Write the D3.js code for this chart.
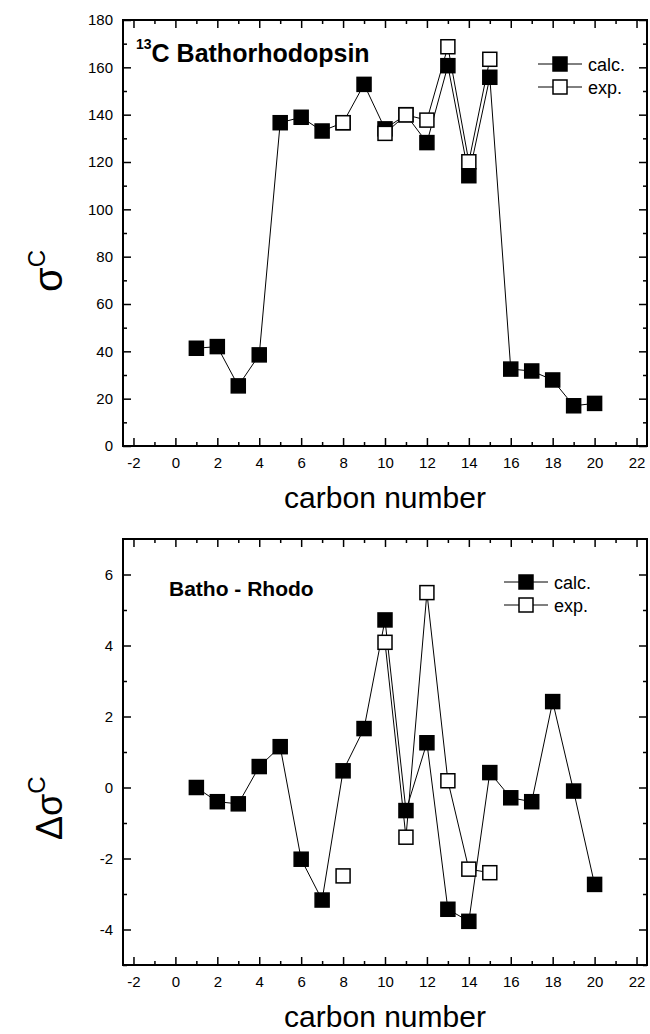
<!DOCTYPE html>
<meta charset="utf-8">
<style>
body { margin: 0; background: #fff; }
svg text { font-family: Arial, "Liberation Sans", sans-serif; fill: #000; }
.tick line { stroke: #000; stroke-width: 1.5px; }
.tick text { font-size: 15px; }
.domain { display: none; }
.frame { fill: none; stroke: #000; stroke-width: 2px; }
.link { fill: none; stroke: #000; stroke-width: 1px; }
</style>
<body>
<svg id="chart" width="650" height="1034"></svg>

<script src="https://d3js.org/d3.v7.min.js"></script>
<script>
// carbon positions along the retinal chain
var carbons = [1, 2, 3, 4, 5, 6, 7, 8, 9, 10, 11, 12, 13, 14, 15, 16, 17, 18, 19, 20];
var xTicks = [-2, 0, 2, 4, 6, 8, 10, 12, 14, 16, 18, 20, 22];

// 13C shielding of bathorhodopsin
var shieldCalc = [41.3, 42.0, 25.4, 38.5, 136.6, 138.9, 133.1, 136.6, 152.8, 134.0,
                  140.0, 128.2, 160.7, 114.2, 155.8, 32.5, 31.7, 27.9, 17.0, 18.0];
var shieldExp  = [null, null, null, null, null, null, null, 136.6, null, 132.1,
                  139.9, 137.7, 168.7, 120.1, 163.4, null, null, null, null, null];
var shieldTicks = [0, 20, 40, 60, 80, 100, 120, 140, 160, 180];

// batho - rhodo shift
var diffCalc = [0.0, -0.40, -0.46, 0.59, 1.15, -2.02, -3.17, 0.47, 1.66, 4.72,
                -0.65, 1.26, -3.43, -3.77, 0.42, -0.29, -0.40, 2.42, -0.10, -2.73];
var diffExp  = [null, null, null, null, null, null, null, -2.49, null, 4.09,
                -1.40, 5.49, 0.19, -2.30, -2.40, null, null, null, null, null];
var diffTicks = [-4, -2, 0, 2, 4, 6];

var seriesNames = ["calc.", "exp."];

var svg = d3.select("#chart");
var left = 123, right = 647, H = 426, S = 14;

var x = d3.scaleLinear().domain([-2.5, 22.5]).range([left, right]);
var plain = function(d) { return String(d); };   // hyphen minus, not d3's unicode minus

function minors(ticks, step) {
  var out = [];
  for (var i = 0; i < ticks.length - 1; i++) out.push(ticks[i] + step);
  return out;
}

function panel(top, yDomain, yTicks, yMinor, calc, exp, opts) {
  var y = d3.scaleLinear().domain(yDomain).range([top + H, top]);
  var g = svg.append("g");
  var xMinor = minors(xTicks, 1);

  // ticks, all pointing inwards
  g.append("g").attr("transform", "translate(0," + (top + H) + ")")
    .call(d3.axisBottom(x).tickValues(xTicks).tickSizeInner(-8).tickSizeOuter(0).tickPadding(11).tickFormat(plain));
  g.append("g").attr("transform", "translate(0," + (top + H) + ")")
    .call(d3.axisBottom(x).tickValues(xMinor).tickSizeInner(-4).tickSizeOuter(0).tickFormat(""));
  g.append("g").attr("transform", "translate(0," + top + ")")
    .call(d3.axisTop(x).tickValues(xTicks).tickSizeInner(-8).tickSizeOuter(0).tickFormat(""));
  g.append("g").attr("transform", "translate(0," + top + ")")
    .call(d3.axisTop(x).tickValues(xMinor).tickSizeInner(-4).tickSizeOuter(0).tickFormat(""));
  g.append("g").attr("transform", "translate(" + left + ",0)")
    .call(d3.axisLeft(y).tickValues(yTicks).tickSizeInner(-8).tickSizeOuter(0).tickPadding(10).tickFormat(plain));
  g.append("g").attr("transform", "translate(" + left + ",0)")
    .call(d3.axisLeft(y).tickValues(yMinor).tickSizeInner(-4).tickSizeOuter(0).tickFormat(""));
  g.append("g").attr("transform", "translate(" + right + ",0)")
    .call(d3.axisRight(y).tickValues(yTicks).tickSizeInner(-8).tickSizeOuter(0).tickFormat(""));
  g.append("g").attr("transform", "translate(" + right + ",0)")
    .call(d3.axisRight(y).tickValues(yMinor).tickSizeInner(-4).tickSizeOuter(0).tickFormat(""));
  g.selectAll(".tick text").attr("fill", "#000");

  g.append("rect").attr("class", "frame")
    .attr("x", left).attr("y", top).attr("width", right - left).attr("height", H);

  var line = d3.line()
    .defined(function(d) { return d.v != null; })
    .x(function(d) { return x(d.c); })
    .y(function(d) { return y(d.v); });

  [calc, exp].forEach(function(vals, k) {
    var pts = carbons.map(function(c, i) { return {c: c, v: vals[i]}; });
    g.append("path").attr("class", "link").attr("d", line(pts));
    g.selectAll(".m" + k).data(pts.filter(function(d) { return d.v != null; }))
      .enter().append("rect")
      .attr("x", function(d) { return x(d.c) - S / 2; })
      .attr("y", function(d) { return y(d.v) - S / 2; })
      .attr("width", S).attr("height", S)
      .attr("fill", k == 0 ? "#000" : "#fff")
      .attr("stroke", "#000").attr("stroke-width", 1.5);
  });

  // legend
  seriesNames.forEach(function(name, k) {
    var ly = opts.legY + k * 23;
    g.append("line").attr("class", "link")
      .attr("x1", opts.legX - 22).attr("x2", opts.legX + 22).attr("y1", ly).attr("y2", ly);
    g.append("rect").attr("x", opts.legX - S / 2).attr("y", ly - S / 2)
      .attr("width", S).attr("height", S)
      .attr("fill", k == 0 ? "#000" : "#fff").attr("stroke", "#000").attr("stroke-width", 1.5);
    g.append("text").attr("x", opts.legX + 28).attr("y", ly + 6.5)
      .style("font-size", "18px").text(name);
  });

  g.append("text").attr("x", (left + right) / 2).attr("y", top + H + 62)
    .attr("text-anchor", "middle").style("font-size", "30px").text("carbon number");
  return g;
}

var g1 = panel(20, [0, 180], shieldTicks, minors(shieldTicks, 10), shieldCalc, shieldExp, {legX: 560, legY: 64});
var g2 = panel(539, [-5, 7], diffTicks, [-5, -3, -1, 1, 3, 5], diffCalc, diffExp, {legX: 526, legY: 582});

// panel labels
var t1 = g1.append("text").attr("x", 136).attr("y", 62).style("font-weight", "bold");
t1.append("tspan").attr("dy", -13).style("font-size", "14px").text("13");
t1.append("tspan").attr("dy", 13).style("font-size", "25px").text("C Bathorhodopsin");

g2.append("text").attr("x", 169).attr("y", 596)
  .style("font-weight", "bold").style("font-size", "21px").text("Batho - Rhodo");

// y titles
var y1 = g1.append("text").attr("transform", "translate(62,292) rotate(-90)");
y1.append("tspan").style("font-size", "40px").text("σ");
y1.append("tspan").attr("dy", -17).style("font-size", "24px").text("C");

var y2 = g2.append("text").attr("transform", "translate(62,840) rotate(-90)");
y2.append("tspan").style("font-size", "36px").text("Δσ");
y2.append("tspan").attr("dy", -17).style("font-size", "24px").text("C");
</script>
</body>
